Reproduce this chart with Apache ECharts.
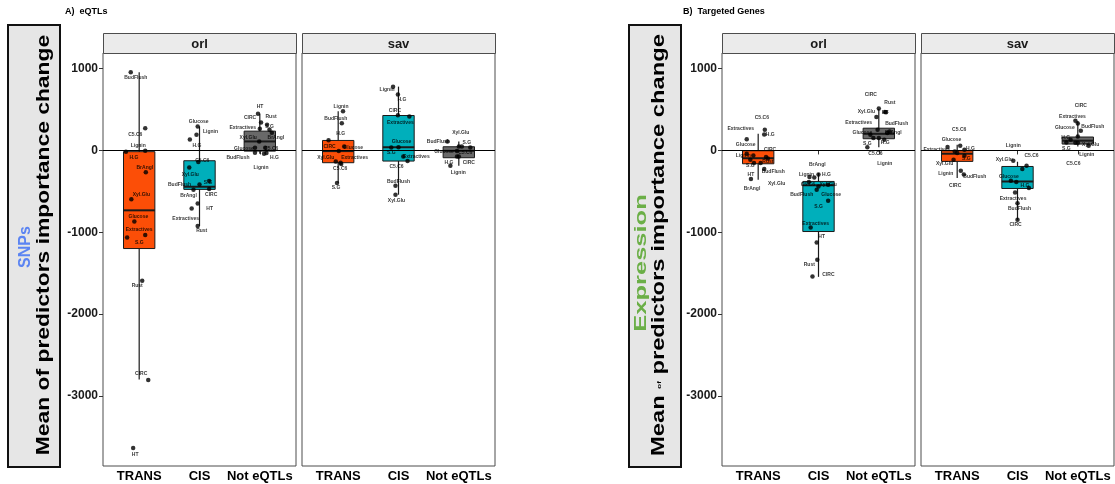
<!DOCTYPE html>
<html>
<head>
<meta charset="utf-8">
<script src="https://cdn.jsdelivr.net/npm/echarts@6/dist/echarts.min.js"></script>
<style>
  html, body { margin: 0; padding: 0; background: #fff; }
  #chart { width: 1115px; height: 484px; }
</style>
</head>
<body>
<div id="chart"></div>
<script>
// Groups on the x axis and the two populations (facets)
const categories = ['TRANS', 'CIS', 'Not eQTLs'];
const facets = ['orl', 'sav'];
const yTicks = [-3000, -2000, -1000, 0, 1000];

// Box summaries per group: [lower whisker, Q1, median, Q3, upper whisker]
const boxesEqtlOrl = [[-2800, -1199, -732, -15, 955], [-923, -476, -443, -126, 293], [-40, -8, 110, 236, 447]];
const boxesEqtlSav = [[-399, -150, -8, 122, 480], [-541, -130, 40, 427, 780], [-187, -89, -5, 45, 110]];
const boxesGeneOrl = [[-358, -163, -95, -4, 204], [-1545, -991, -424, -379, -277], [40, 143, 203, 272, 505]];
const boxesGeneSav = [[-338, -134, -40, -4, 70], [-848, -465, -379, -196, -138], [49, 78, 119, 164, 360]];

// Trait points: [group (1-3), jitter, mean importance change, trait]
const ptsEqtlOrl = [
  [1, -0.14, 955, 'BudFlush'], [1, 0.10, 272, 'C5.C6'], [1, 0.10, -4, 'Lignin'], [1, -0.22, -16, 'H.G'],
  [1, 0.11, -268, 'BrAngl'], [1, -0.13, -598, 'Xyl.Glu'], [1, -0.08, -870, 'Glucose'], [1, -0.20, -1065, 'Extractives'],
  [1, 0.10, -1033, 'S.G'], [1, 0.05, -1594, 'Rust'], [1, 0.15, -2805, 'CIRC'], [1, -0.10, -3638, 'HT'],
  [2, -0.03, 293, 'Glucose'], [2, -0.05, 191, 'Lignin'], [2, -0.16, 134, 'H.G'], [2, -0.02, -140, 'C5.C6'],
  [2, -0.17, -207, 'Xyl.Glu'], [2, 0.00, -415, 'BudFlush'], [2, 0.16, -374, 'S.G'], [2, -0.10, -480, 'BrAngl'],
  [2, 0.16, -472, 'CIRC'], [2, -0.03, -650, 'HT'], [2, -0.13, -711, 'Extractives'], [2, -0.03, -923, 'Rust'],
  [3, -0.03, 447, 'HT'], [3, 0.02, 341, 'CIRC'], [3, 0.12, 313, 'Rust'], [3, 0.00, 265, 'Extractives'],
  [3, 0.16, 253, 'S.G'], [3, -0.01, 110, 'Xyl.Glu'], [3, 0.20, 217, 'BrAngl'], [3, -0.08, 33, 'Glucose'],
  [3, 0.09, 33, 'C5.C6'], [3, -0.08, -28, 'BudFlush'], [3, 0.11, -32, 'H.G'], [3, 0.07, -40, 'Lignin']
];
const ptsEqtlSav = [
  [1, 0.08, 480, 'Lignin'], [1, 0.06, 333, 'BudFlush'], [1, -0.16, 126, 'CIRC'], [1, 0.01, -8, 'H.G'],
  [1, 0.10, 49, 'Glucose'], [1, -0.04, -134, 'Xyl.Glu'], [1, 0.04, -150, 'Extractives'], [1, 0.05, -167, 'C5.C6'],
  [1, -0.02, -399, 'S.G'],
  [2, -0.09, 780, 'Lignin'], [2, -0.01, 683, 'H.G'], [2, -0.01, 431, 'CIRC'], [2, 0.18, 415, 'Extractives'],
  [2, 0.00, 40, 'Glucose'], [2, -0.12, 37, 'S.G'], [2, 0.08, -73, 'Extractives'], [2, 0.15, -130, 'C5.C6'],
  [2, -0.05, -431, 'BudFlush'], [2, -0.05, -541, 'Xyl.Glu'],
  [3, -0.19, 110, 'BudFlush'], [3, 0.00, 49, 'Xyl.Glu'], [3, 0.05, 49, 'S.G'], [3, -0.03, -8, 'Glucose'],
  [3, 0.19, 35, 'C5.C6'], [3, -0.03, -73, 'H.G'], [3, 0.00, -75, 'CIRC'], [3, -0.14, -187, 'Lignin']
];
const ptsGeneOrl = [
  [1, 0.11, 252, 'C5.C6'], [1, 0.10, 195, 'H.G'], [1, -0.19, 138, 'Extractives'], [1, -0.19, -40, 'Glucose'],
  [1, -0.08, -61, 'Lignin'], [1, 0.13, -81, 'CIRC'], [1, 0.16, -98, 'Rust'], [1, -0.13, -114, 'S.G'],
  [1, -0.07, -155, 'BrAngl'], [1, 0.04, -152, 'Xyl.Glu'], [1, 0.10, -228, 'BudFlush'], [1, -0.12, -350, 'HT'],
  [2, -0.07, -330, 'BrAngl'], [2, 0.00, -293, 'H.G'], [2, -0.15, -326, 'Lignin'], [2, -0.16, -387, 'C5.C6'],
  [2, 0.16, -420, 'Xyl.Glu'], [2, -0.03, -481, 'BudFlush'], [2, 0.16, -615, 'Glucose'], [2, 0.00, -440, 'S.G'],
  [2, -0.13, -941, 'Extractives'], [2, -0.03, -1125, 'HT'], [2, -0.02, -1337, 'Rust'], [2, -0.10, -1541, 'CIRC'],
  [3, 0.00, 514, 'CIRC'], [3, 0.10, 470, 'Rust'], [3, -0.04, 408, 'Xyl.Glu'], [3, 0.12, 466, 'HT'],
  [3, -0.02, 253, 'Extractives'], [3, 0.18, 232, 'BudFlush'], [3, -0.14, 192, 'Glucose'], [3, 0.14, 213, 'BrAngl'],
  [3, -0.19, 40, 'S.G'], [3, 0.09, 131, 'H.G'], [3, -0.09, 152, 'C5.C6'], [3, 0.00, 152, 'Lignin']
];
const ptsGeneSav = [
  [1, 0.05, 57, 'C5.C6'], [1, -0.16, 42, 'Glucose'], [1, -0.04, -12, 'Extractives'], [1, 0.12, 8, 'H.G'],
  [1, 0.12, -65, 'S.G'], [1, 0.00, -32, 'CIRC'], [1, -0.06, -114, 'Xyl.Glu'], [1, 0.06, -248, 'Lignin'],
  [1, 0.11, -293, 'BudFlush'],
  [2, 0.08, -228, 'Lignin'], [2, -0.07, -126, 'Xyl.Glu'], [2, 0.15, -187, 'C5.C6'], [2, -0.11, -371, 'Glucose'],
  [2, -0.02, -387, ''], [2, 0.19, -460, 'H.G'], [2, -0.04, -514, 'Extractives'], [2, 0.00, -644, 'BudFlush'],
  [2, 0.00, -848, 'CIRC'],
  [3, -0.04, 362, 'Extractives'], [3, 0.00, 330, 'CIRC'], [3, 0.05, 241, 'BudFlush'], [3, 0.00, 171, 'Glucose'],
  [3, -0.12, 131, 'H.G'], [3, -0.19, 98, 'S.G'], [3, 0.18, 57, 'Xyl.Glu'], [3, 0.00, 93, 'Lignin'],
  [3, -0.04, 93, 'C5.C6']
];

// Text-label nudges (pixels, [dx, dy]) so trait names sit beside their dots
const nudgeEqtlOrl = [
  [5, 5], [-10, 6], [-7, -5], [8, 6], [-1, -5], [10, -5], [4, -5], [12, -8], [-6, 8], [-5, 5], [-7, -6], [2, 7],
  [1, -5], [14, -3], [7, 6], [4, -1], [1, 7], [-20, 0], [-1, 2], [-5, 6], [2, 6], [12, 5], [-6, 10], [4, 5],
  [2, -7], [-11, -5], [4, -8], [-17, -1], [0, -3], [-11, -4], [4, 5], [-11, 1], [6, 1], [-17, 5], [8, 5], [-3, 14]
];
const nudgeEqtlSav = [
  [-2, -5], [-6, -5], [1, 6], [2, -17], [9, 1], [-10, -4], [14, -5], [-1, 5], [-1, 5],
  [-6, 3], [4, 5], [-3, -5], [-9, 6], [3, -6], [0, 5], [13, 0], [-11, 6], [3, -4], [1, 6],
  [-9, 0], [2, -14], [5, -4], [-13, 1], [-5, 5], [-8, 6], [10, 6], [8, 7]
];
const nudgeGeneOrl = [
  [-3, -12], [6, 0], [-6, -11], [-1, -9], [-10, 0], [4, -7], [0, 3], [0, 6], [-2, 26], [16, 21], [9, 3], [0, -4],
  [3, -13], [8, 0], [-3, -2], [-1, 3], [0, 0], [-15, 5], [3, -6], [0, 20], [5, -4], [5, -6], [-8, 5], [16, -2],
  [-8, -14], [5, -9], [-10, -5], [-1, 0], [-19, -7], [7, -8], [-8, -2], [6, 0], [0, -4], [1, 3], [2, 16], [6, 26]
];
const nudgeGeneSav = [
  [-1, -16], [4, -7], [-18, -2], [6, -1], [2, 3], [-2, 33], [-9, 4], [-15, 3], [11, 2],
  [-9, -23], [-9, -1], [5, -10], [-2, -4], [0, 0], [-4, -2], [-2, 6], [2, 5], [-2, 5],
  [-3, -4], [3, -18], [12, -4], [-13, -9], [-5, -2], [0, 6], [2, -1], [9, 12], [-2, 21]
];

// ---- styling ----
const FONT = '"Liberation Sans", Arial, Helvetica, sans-serif';
const boxFill = ['#FC4E07', '#00AFBB', '#696969'];
const INK = '#1a1a1a';
const BOX_HALF = 0.26;
const Y_MIN = -3857, Y_MAX = 1191;

const panels = [
  { left: 103, boxes: boxesEqtlOrl, pts: ptsEqtlOrl, nudge: nudgeEqtlOrl, facet: facets[0], yLabels: true },
  { left: 302, boxes: boxesEqtlSav, pts: ptsEqtlSav, nudge: nudgeEqtlSav, facet: facets[1], yLabels: false },
  { left: 722, boxes: boxesGeneOrl, pts: ptsGeneOrl, nudge: nudgeGeneOrl, facet: facets[0], yLabels: true },
  { left: 921, boxes: boxesGeneSav, pts: ptsGeneSav, nudge: nudgeGeneSav, facet: facets[1], yLabels: false }
];
const PANEL_TOP = 53, PANEL_H = 413, PANEL_W = 193, STRIP_H = 20;

function renderBox(params, api) {
  const x = api.value(0);
  const k = api.value(6);
  const lo = api.coord([x, api.value(1)]);
  const q1 = api.coord([x, api.value(2)]);
  const med = api.coord([x, api.value(3)]);
  const q3 = api.coord([x, api.value(4)]);
  const hi = api.coord([x, api.value(5)]);
  const hw = api.size([BOX_HALF, 0])[0];
  return {
    type: 'group',
    children: [
      { type: 'line', shape: { x1: hi[0], y1: hi[1], x2: lo[0], y2: lo[1] }, style: { stroke: INK, lineWidth: 1.2 } },
      { type: 'rect', shape: { x: q3[0] - hw, y: q3[1], width: 2 * hw, height: q1[1] - q3[1] },
        style: { fill: boxFill[k], stroke: INK, lineWidth: 1 } },
      { type: 'line', shape: { x1: med[0] - hw, y1: med[1], x2: med[0] + hw, y2: med[1] },
        style: { stroke: INK, lineWidth: 2 } }
    ]
  };
}

const grid = [], xAxis = [], yAxis = [], series = [], graphic = [];
panels.forEach((p, i) => {
  grid.push({ left: p.left, top: PANEL_TOP, width: PANEL_W, height: PANEL_H,
    show: true, borderColor: '#4d4d4d', borderWidth: 1, backgroundColor: '#fff' });
  xAxis.push({
    type: 'value', gridIndex: i, min: 0.4, max: 3.6,
    splitLine: { show: false }, axisLine: { show: false },
    axisTick: { show: true, length: 4, lineStyle: { color: '#333' }, customValues: [1, 2, 3] },
    axisLabel: { show: true, customValues: [1, 2, 3], formatter: v => categories[Math.round(v) - 1] || '',
      fontSize: 13, fontWeight: 'bold', color: '#000', fontFamily: FONT, margin: 4 }
  });
  yAxis.push({
    type: 'value', gridIndex: i, min: Y_MIN, max: Y_MAX,
    splitLine: { show: false }, axisLine: { show: false },
    axisTick: { show: p.yLabels, length: 4, lineStyle: { color: '#333' }, customValues: yTicks },
    axisLabel: { show: p.yLabels, customValues: yTicks, formatter: v => String(Math.round(v)),
      fontSize: 12, fontWeight: 'bold', color: '#1a1a1a', fontFamily: FONT, margin: 5 }
  });
  series.push({
    type: 'custom', xAxisIndex: i, yAxisIndex: i, renderItem: renderBox, z: 2,
    encode: { x: 0, y: [1, 2, 3, 4, 5] },
    data: p.boxes.map((b, k) => [k + 1, b[0], b[1], b[2], b[3], b[4], k])
  });
  series.push({
    type: 'scatter', xAxisIndex: i, yAxisIndex: i, z: 4,
    symbolSize: 4.5, itemStyle: { color: '#000' },
    label: { show: true, position: 'inside', formatter: '{b}', fontSize: 5, fontWeight: 'bold',
      color: '#000', fontFamily: FONT },
    data: p.pts.map((d, j) => ({ name: d[3], value: [d[0] + d[1], d[2]], label: { offset: p.nudge[j] } })),
    markLine: {
      silent: true, symbol: ['none', 'none'], label: { show: false },
      lineStyle: { color: '#000', width: 1, type: 'solid' },
      data: [{ yAxis: 0 }]
    }
  });
  // facet strip
  graphic.push({ type: 'rect', left: p.left, top: PANEL_TOP - STRIP_H, z: 10,
    shape: { width: PANEL_W, height: STRIP_H }, style: { fill: '#ebebeb', stroke: '#4d4d4d', lineWidth: 1 } });
  graphic.push({ type: 'text', x: p.left + PANEL_W / 2, y: PANEL_TOP - STRIP_H / 2 + 1, z: 11,
    style: { text: p.facet, font: 'bold 13px ' + FONT, fill: '#1a1a1a',
      textAlign: 'center', textVerticalAlign: 'middle', align: 'center', verticalAlign: 'middle' } });
});

// panel titles
graphic.push({ type: 'text', x: 65, y: 12, z: 11,
  style: { text: 'A)  eQTLs', font: 'bold 9px ' + FONT, fill: '#000', textVerticalAlign: 'middle', verticalAlign: 'middle' } });
graphic.push({ type: 'text', x: 683, y: 12, z: 11,
  style: { text: 'B)  Targeted Genes', font: 'bold 9px ' + FONT, fill: '#000', textVerticalAlign: 'middle', verticalAlign: 'middle' } });

// y-axis title boxes: a shaded frame holding a coloured data-type word and the measure name
function yTitle(x0, accent, accentColor, accentSize, accentScale, accentX, accentY, mainX, mainText, mainScale, rich) {
  graphic.push({ type: 'rect', left: x0, top: 24, z: 10,
    shape: { width: 52, height: 442 }, style: { fill: '#e6e6e6', stroke: '#111', lineWidth: 2 } });
  graphic.push({ type: 'text', x: accentX, y: accentY, rotation: Math.PI / 2, scaleX: accentScale, z: 11,
    style: { text: accent, font: 'bold ' + accentSize + 'px ' + FONT, fill: accentColor,
      textAlign: 'center', textVerticalAlign: 'middle', align: 'center', verticalAlign: 'middle' } });
  graphic.push({ type: 'text', x: mainX, y: 245, rotation: Math.PI / 2, scaleX: mainScale, z: 11,
    style: { text: mainText, rich: rich, font: 'bold 18px ' + FONT, fill: '#000',
      textAlign: 'center', textVerticalAlign: 'middle', align: 'center', verticalAlign: 'middle' } });
}
yTitle(7, 'SNPs', '#5B84F2', 16, 1, 26, 247, 44, 'Mean of predictors importance change', 1.27, null);
yTitle(628, 'Expression', '#6BAF47', 17, 1.5, 641, 263, 659, 'Mean {s|of} predictors importance change', 1.32,
  { s: { fontSize: 6, fontWeight: 'bold', fontFamily: FONT, fill: '#000', color: '#000' } });

const chart = echarts.init(document.getElementById('chart'), null, { renderer: 'canvas' });
chart.setOption({
  animation: false,
  backgroundColor: '#fff',
  grid, xAxis, yAxis, series, graphic
});
</script>
</body>
</html>
